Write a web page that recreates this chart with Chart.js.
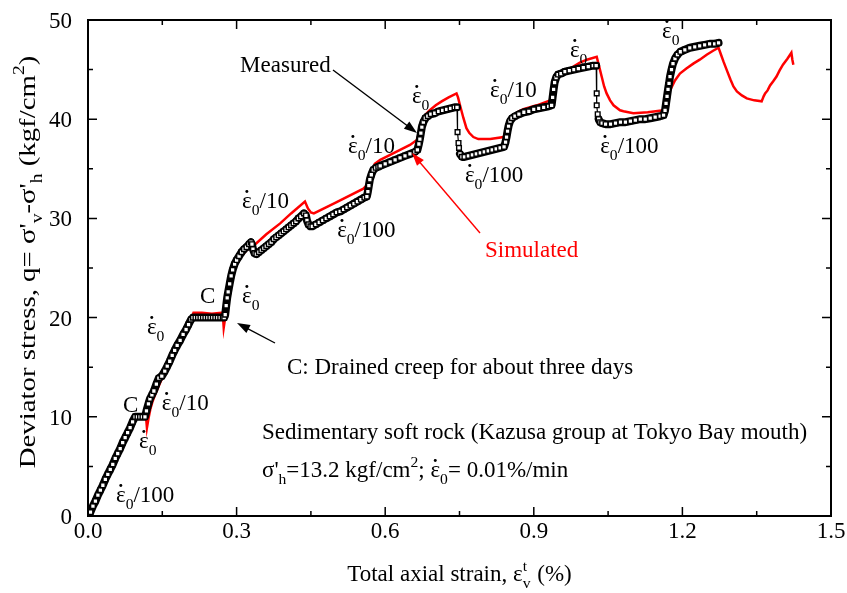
<!DOCTYPE html>
<html>
<head>
<meta charset="utf-8">
<script src="https://cdn.jsdelivr.net/npm/chart.js@4"></script>
<style>
  html, body { margin: 0; padding: 0; background: #fff; }
  canvas { display: block; }
</style>
</head>
<body>
<canvas id="chart" width="847" height="593"></canvas>
<script>
// ---- Measured response (squares): total axial strain (%) and deviator stress (kgf/cm2)
const measuredStrain = [
  0.000,0.005,0.010,0.015,0.020,0.025,0.030,0.035,0.040,0.045,0.050,0.055,0.060,0.065,0.070,0.075,0.080,0.085,0.090,0.095,
  0.100,0.105,0.110,0.115,
  0.118,0.122,0.125,0.129,0.133,0.138,0.143,0.149,0.155,0.160,0.165,0.170,0.175,0.180,0.186,0.192,0.198,0.203,0.208,0.212,
  0.217,0.222,0.227,0.232,0.237,0.242,0.247,0.252,0.257,0.262,0.267,0.272,0.275,
  0.277,0.279,0.281,0.283,0.286,0.289,0.292,0.296,0.300,0.305,0.310,0.315,0.320,0.325,0.329,0.331,0.333,0.336,0.340,
  0.345,0.350,0.355,0.360,0.365,0.370,0.375,0.380,0.385,0.390,0.395,0.400,0.405,0.410,0.415,0.420,0.425,0.430,0.436,
  0.440,0.442,0.445,0.449,0.453,
  0.460,0.467,0.474,0.481,0.488,0.495,0.502,0.509,0.516,0.523,0.530,0.537,0.544,0.551,0.558,0.563,
  0.565,0.567,0.569,0.572,0.576,0.581,0.586,0.590,0.600,0.610,0.620,0.630,0.640,0.650,0.660,0.665,
  0.668,0.670,0.672,0.674,0.677,0.681,0.686,0.692,0.700,0.708,0.716,0.724,0.732,0.740,0.745,
  0.746,0.748,0.749,0.751,0.755,0.760,
  0.768,0.776,0.784,0.792,0.800,0.808,0.816,0.824,0.832,0.840,
  0.843,0.845,0.847,0.849,0.852,0.856,0.862,0.870,0.880,0.890,0.900,0.910,0.920,0.930,0.936,
  0.938,0.940,0.942,0.945,0.949,0.955,0.963,0.972,0.981,0.990,1.000,1.010,1.020,1.026,
  1.027,1.027,1.029,1.031,1.034,1.038,1.045,
  1.055,1.065,1.075,1.085,1.095,1.105,1.115,1.125,1.135,1.145,1.155,1.162,
  1.165,1.167,1.169,1.171,1.173,1.175,1.178,1.181,1.185,1.190,1.196,1.205,1.215,1.225,1.235,1.245,1.255,1.265,1.273
];
const measuredStress = [
  0.0,0.4,1.0,1.5,2.1,2.6,3.1,3.7,4.2,4.7,5.2,5.8,6.3,6.8,7.4,7.9,8.4,8.9,9.5,10.0,
  10.0,10.0,10.0,10.0,
  10.6,11.3,11.8,12.2,12.6,13.3,13.9,14.1,14.6,15.1,15.6,16.2,16.7,17.2,17.7,18.3,18.8,19.3,19.8,20.0,
  20.0,20.0,20.0,20.0,20.0,20.0,20.0,20.0,20.0,20.0,20.0,20.0,20.0,
  20.3,21.2,22.0,22.6,23.4,24.2,24.8,25.4,25.8,26.2,26.6,26.9,27.1,27.4,27.6,27.4,26.9,26.5,26.4,
  26.6,26.8,27.0,27.2,27.4,27.6,27.9,28.1,28.3,28.5,28.7,28.9,29.1,29.3,29.5,29.7,30.0,30.2,30.5,
  30.3,29.8,29.4,29.2,29.2,
  29.4,29.6,29.8,30.0,30.2,30.4,30.6,30.7,30.9,31.1,31.3,31.5,31.7,31.9,32.1,32.2,
  32.7,33.3,33.9,34.4,34.9,35.1,35.2,35.3,35.5,35.7,35.9,36.1,36.3,36.5,36.7,36.9,
  37.5,38.0,38.6,39.2,39.7,40.1,40.3,40.5,40.6,40.8,40.9,41.0,41.1,41.2,41.2,
  38.7,37.6,37.1,36.5,36.2,36.2,
  36.3,36.4,36.5,36.6,36.7,36.8,36.9,37.0,37.1,37.2,
  37.7,38.2,38.8,39.3,39.8,40.1,40.3,40.5,40.7,40.8,41.0,41.1,41.2,41.3,41.4,
  42.2,43.0,43.7,44.2,44.5,44.6,44.8,44.9,45.0,45.1,45.2,45.3,45.4,45.4,
  42.6,41.4,40.5,40.0,39.7,39.6,39.5,
  39.5,39.6,39.7,39.7,39.8,39.9,40.0,40.0,40.1,40.2,40.3,40.4,
  40.9,41.6,42.3,43.0,43.6,44.3,45.0,45.6,46.1,46.5,46.8,47.0,47.2,47.3,47.4,47.5,47.6,47.6,47.7
];

// ---- Simulated response (red line)
const simulatedStrain = [
  0.095,0.117,0.119,0.122,0.126,0.130,0.136,0.142,0.148,0.155,0.162,0.170,0.180,0.190,0.200,0.208,
  0.213,0.230,0.250,0.272,0.274,0.277,0.281,0.285,0.290,0.295,0.300,0.310,0.320,0.330,0.340,0.360,0.388,0.410,0.438,
  0.444,0.450,0.456,0.500,0.556,0.566,0.572,0.579,0.590,0.610,0.630,0.650,0.664,0.668,0.674,0.682,0.690,0.702,0.714,0.728,0.744,
  0.747,0.751,0.758,0.764,0.770,0.778,0.788,0.812,0.839,0.843,0.849,0.859,0.870,0.879,0.906,0.933,
  0.938,0.943,0.949,0.956,0.968,0.980,0.993,1.007,1.027,
  1.032,1.037,1.042,1.047,1.054,1.061,1.074,1.081,1.101,1.130,1.162,
  1.168,1.175,1.185,1.195,1.208,1.222,1.235,1.249,1.262,1.273,
  1.278,1.283,1.290,1.297,1.303,1.310,1.320,1.330,1.345,1.360,
  1.364,1.367,1.372,1.377,1.383,1.390,1.396,1.403,1.412,1.420,1.422,1.424
];
const simulatedStress = [
  10.1,10.1,8.9,9.8,10.8,11.5,12.3,13.0,13.7,14.4,15.1,16.1,17.1,18.2,19.1,19.8,
  20.5,20.5,20.4,20.5,19.0,20.0,21.5,22.6,23.8,24.7,25.4,26.2,26.8,27.1,27.5,28.4,29.5,30.5,31.7,
  31.0,30.6,30.5,31.6,33.0,33.5,34.6,35.5,35.9,36.4,36.9,37.4,37.9,38.6,39.8,40.5,40.9,41.4,41.8,42.2,42.6,
  42.2,41.4,40.1,39.1,38.6,38.2,38.0,38.0,38.2,38.8,39.7,40.4,40.8,41.0,41.4,41.9,
  42.7,43.6,44.2,44.6,45.0,45.3,45.7,46.0,46.3,
  45.3,44.3,43.3,42.6,41.9,41.4,40.9,40.8,40.6,40.7,40.9,
  41.9,42.9,43.9,44.6,45.1,45.6,46.0,46.5,46.9,47.2,
  46.5,45.8,44.9,44.0,43.3,42.8,42.4,42.1,41.9,41.8,
  42.3,42.6,42.9,43.4,43.8,44.3,44.9,45.5,46.1,46.7,46.0,45.5
];

// ---- Axis ticks
const xTickValues = [0.0, 0.3, 0.6, 0.9, 1.2, 1.5];
const xTickLabels = ['0.0', '0.3', '0.6', '0.9', '1.2', '1.5'];
const xMinorTicks = [0.15, 0.45, 0.75, 1.05, 1.35];
const yTickValues = [0, 10, 20, 30, 40, 50];
const yTickLabels = ['0', '10', '20', '30', '40', '50'];
const yMinorTicks = [5, 15, 25, 35, 45];

// ---- Rate labels placed in data space (strain, stress): kind 0 = ε̇0, 10 = ε̇0/10, 100 = ε̇0/100
const rateLabels = [
  { x: 0.0565, y: 1.41,  kind: 100 },
  { x: 0.103,  y: 6.85,  kind: 0 },
  { x: 0.149,  y: 10.69, kind: 10 },
  { x: 0.119,  y: 18.35, kind: 0 },
  { x: 0.311,  y: 21.47, kind: 0 },
  { x: 0.311,  y: 31.05, kind: 10 },
  { x: 0.503,  y: 28.13, kind: 100 },
  { x: 0.525,  y: 36.59, kind: 10 },
  { x: 0.654,  y: 41.63, kind: 0 },
  { x: 0.761,  y: 33.67, kind: 100 },
  { x: 0.8116, y: 42.24, kind: 10 },
  { x: 0.973,  y: 46.27, kind: 0 },
  { x: 1.034,  y: 36.59, kind: 100 },
  { x: 1.159,  y: 48.19, kind: 0 }
];
const creepMarks = [ { x: 0.0707, y: 10.48 }, { x: 0.226, y: 21.47 } ];

const FONT_FAMILY = '"Liberation Serif", "Times New Roman", Times, serif';
const TXT = 23;
function fontOf(size) { return size + 'px ' + FONT_FAMILY; }

// Rich text: runs of {t, k:'sub'|'sup', dot} or {stack:true, sub, sup}
function measureRuns(ctx, runs, size) {
  let w = 0;
  for (const r of runs) {
    if (r.stack) {
      ctx.font = fontOf(size * 0.68);
      r.w = Math.max(ctx.measureText(r.sub).width, ctx.measureText(r.sup).width) + 1;
    } else {
      ctx.font = fontOf(r.k ? size * 0.68 : size);
      r.w = ctx.measureText(r.t).width;
    }
    w += r.w;
  }
  return w;
}
function drawRuns(ctx, runs, x, y, size, align, color) {
  const w = measureRuns(ctx, runs, size);
  let cx = align === 'center' ? x - w / 2 : x;
  ctx.fillStyle = color;
  ctx.textAlign = 'left';
  ctx.textBaseline = 'alphabetic';
  for (const r of runs) {
    if (r.stack) {
      ctx.font = fontOf(size * 0.68);
      ctx.fillText(r.sub, cx, y + size * 0.30);
      ctx.fillText(r.sup, cx, y - size * 0.45);
    } else if (r.k === 'sub') {
      ctx.font = fontOf(size * 0.68);
      ctx.fillText(r.t, cx, y + size * 0.30);
    } else if (r.k === 'sup') {
      ctx.font = fontOf(size * 0.68);
      ctx.fillText(r.t, cx, y - size * 0.45);
    } else {
      ctx.font = fontOf(size);
      ctx.fillText(r.t, cx, y);
    }
    if (r.dot) {
      ctx.beginPath();
      ctx.arc(cx + r.w * 0.5, y - size * 0.72, size * 0.065, 0, Math.PI * 2);
      ctx.fill();
    }
    cx += r.w;
  }
}
function rateRuns(kind) {
  const runs = [{ t: 'ε', dot: true }, { t: '0', k: 'sub' }];
  if (kind === 10) runs.push({ t: '/10' });
  if (kind === 100) runs.push({ t: '/100' });
  return runs;
}
function drawArrow(ctx, x0, y0, x1, y1, color) {
  const a = Math.atan2(y1 - y0, x1 - x0);
  const L = 13, H = 4.5;
  ctx.strokeStyle = color;
  ctx.fillStyle = color;
  ctx.lineWidth = 1.4;
  ctx.beginPath();
  ctx.moveTo(x0, y0);
  ctx.lineTo(x1 - Math.cos(a) * L * 0.8, y1 - Math.sin(a) * L * 0.8);
  ctx.stroke();
  ctx.beginPath();
  ctx.moveTo(x1, y1);
  ctx.lineTo(x1 - L * Math.cos(a) + H * Math.sin(a), y1 - L * Math.sin(a) - H * Math.cos(a));
  ctx.lineTo(x1 - L * Math.cos(a) - H * Math.sin(a), y1 - L * Math.sin(a) + H * Math.cos(a));
  ctx.closePath();
  ctx.fill();
}

// Frame, inward ticks, tick labels, axis titles and annotations
const decorations = {
  id: 'decorations',
  afterDraw(chart) {
    const ctx = chart.ctx;
    const xs = chart.scales.x, ys = chart.scales.y;
    const a = chart.chartArea;
    const X = v => xs.getPixelForValue(v), Y = v => ys.getPixelForValue(v);
    ctx.save();

    // frame
    ctx.strokeStyle = '#000';
    ctx.lineWidth = 2;
    ctx.strokeRect(a.left, a.top, a.right - a.left, a.bottom - a.top);

    // ticks (pointing inward on all four sides)
    ctx.lineWidth = 1.5;
    ctx.beginPath();
    const xt = (v, len) => {
      const p = X(v);
      ctx.moveTo(p, a.bottom); ctx.lineTo(p, a.bottom - len);
      ctx.moveTo(p, a.top); ctx.lineTo(p, a.top + len);
    };
    const yt = (v, len) => {
      const p = Y(v);
      ctx.moveTo(a.left, p); ctx.lineTo(a.left + len, p);
      ctx.moveTo(a.right, p); ctx.lineTo(a.right - len, p);
    };
    xTickValues.forEach(v => xt(v, 9));
    xMinorTicks.forEach(v => xt(v, 5));
    yTickValues.forEach(v => yt(v, 9));
    yMinorTicks.forEach(v => yt(v, 5));
    ctx.stroke();

    // tick labels
    ctx.fillStyle = '#000';
    ctx.font = fontOf(TXT);
    ctx.textBaseline = 'alphabetic';
    ctx.textAlign = 'center';
    xTickValues.forEach((v, i) => ctx.fillText(xTickLabels[i], X(v), a.bottom + 22));
    ctx.textAlign = 'right';
    yTickValues.forEach((v, i) => ctx.fillText(yTickLabels[i], a.left - 16, Y(v) + 8));

    // axis titles
    drawRuns(ctx, [{ t: 'Total axial strain, ε' }, { stack: true, sub: 'v', sup: 't' }, { t: ' (%)' }],
      (a.left + a.right) / 2, 581, TXT, 'center', '#000');
    ctx.save();
    ctx.translate(35, 262);
    ctx.rotate(-Math.PI / 2);
    ctx.scale(1.2, 1);
    drawRuns(ctx, [{ t: "Deviator stress, q= σ'" }, { t: 'v', k: 'sub' }, { t: "-σ'" }, { t: 'h', k: 'sub' },
      { t: ' (kgf/cm' }, { t: '2', k: 'sup' }, { t: ')' }], 0, 0, 24, 'center', '#000');
    ctx.restore();

    // strain-rate labels and creep marks
    rateLabels.forEach(l => drawRuns(ctx, rateRuns(l.kind), X(l.x), Y(l.y), TXT, 'left', '#000'));
    creepMarks.forEach(m => drawRuns(ctx, [{ t: 'C' }], X(m.x), Y(m.y), TXT, 'left', '#000'));

    // callouts
    drawRuns(ctx, [{ t: 'Measured' }], X(0.307), Y(44.76), TXT, 'left', '#000');
    drawArrow(ctx, X(0.4946), Y(44.96), X(0.6642), Y(38.61), '#000');
    drawRuns(ctx, [{ t: 'Simulated' }], X(0.8015), Y(26.11), TXT, 'left', '#ff0000');
    drawArrow(ctx, X(0.7914), Y(28.53), X(0.6541), Y(36.59), '#ff0000');
    drawRuns(ctx, [{ t: 'C: Drained creep for about three days' }], X(0.4018), Y(14.31), TXT, 'left', '#000');
    drawArrow(ctx, X(0.3775), Y(17.44), X(0.3008), Y(19.46), '#000');

    // test conditions
    drawRuns(ctx, [{ t: 'Sedimentary soft rock (Kazusa group at Tokyo Bay mouth)' }], X(0.3513), Y(7.76), TXT, 'left', '#000');
    drawRuns(ctx, [{ t: "σ'" }, { t: 'h', k: 'sub' }, { t: '=13.2 kgf/cm' }, { t: '2', k: 'sup' }, { t: '; ' },
      { t: 'ε', dot: true }, { t: '0', k: 'sub' }, { t: '= 0.01%/min' }], X(0.3513), Y(3.93), TXT, 'left', '#000');

    ctx.restore();
  }
};

const toPoints = (xs, ys) => xs.map((x, i) => ({ x, y: ys[i] }));

new Chart(document.getElementById('chart'), {
  type: 'scatter',
  data: {
    datasets: [
      {
        label: 'Measured',
        data: toPoints(measuredStrain, measuredStress),
        showLine: true,
        borderColor: '#000',
        borderWidth: 8,
        borderJoinStyle: 'round',
        borderCapStyle: 'round',
        pointStyle: 'rect',
        pointRadius: 3.3,
        pointBackgroundColor: '#fff',
        pointBorderColor: '#000',
        pointBorderWidth: 1.4,
        segment: {
          // sudden load relaxations are joined by a thin line between sparse squares
          borderWidth: c => {
            const p0 = c.p0.parsed, p1 = c.p1.parsed;
            return (p0.y - p1.y > 0.45 && p1.x - p0.x < 0.004 && p0.y > 35) ? 1.2 : 8;
          }
        }
      },
      {
        label: 'Simulated',
        data: toPoints(simulatedStrain, simulatedStress),
        showLine: true,
        borderColor: '#ff0000',
        borderWidth: 2.5,
        pointRadius: 0,
        tension: 0
      }
    ]
  },
  options: {
    responsive: false,
    devicePixelRatio: 1,
    animation: false,
    layout: { padding: { top: 20, right: 16, left: 0, bottom: 0 } },
    plugins: { legend: { display: false }, tooltip: { enabled: false } },
    scales: {
      x: {
        type: 'linear', min: 0, max: 1.5,
        grid: { display: false }, border: { display: false },
        ticks: { display: false },
        afterFit: s => { s.height = 77; }
      },
      y: {
        type: 'linear', min: 0, max: 50,
        grid: { display: false }, border: { display: false },
        ticks: { display: false },
        afterFit: s => { s.width = 88; }
      }
    }
  },
  plugins: [decorations]
});
</script>
</body>
</html>
